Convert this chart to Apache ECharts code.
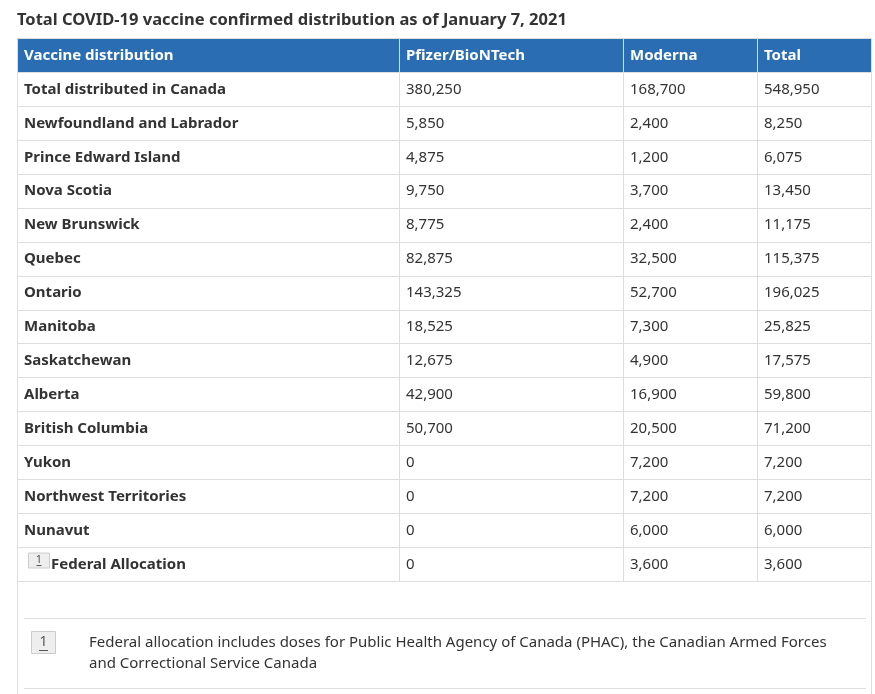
<!DOCTYPE html>
<html>
<head>
<meta charset="utf-8">
<script src="https://cdn.jsdelivr.net/npm/echarts@6/dist/echarts.min.js"></script>
<style>
html,body{margin:0;padding:0;background:#fff;}
#chart{width:875px;height:694px;}
</style>
</head>
<body>
<div id="chart"></div>
<script>
const titleText = 'Total COVID-19 vaccine confirmed distribution as of January 7, 2021';
const columns = ['Vaccine distribution', 'Pfizer/BioNTech', 'Moderna', 'Total'];
const regions = ['Total distributed in Canada', 'Newfoundland and Labrador', 'Prince Edward Island', 'Nova Scotia', 'New Brunswick', 'Quebec', 'Ontario', 'Manitoba', 'Saskatchewan', 'Alberta', 'British Columbia', 'Yukon', 'Northwest Territories', 'Nunavut', 'Federal Allocation'];
const pfizer = [380250, 5850, 4875, 9750, 8775, 82875, 143325, 18525, 12675, 42900, 50700, 0, 0, 0, 0];
const moderna = [168700, 2400, 1200, 3700, 2400, 32500, 52700, 7300, 4900, 16900, 20500, 7200, 7200, 6000, 3600];
const total = [548950, 8250, 6075, 13450, 11175, 115375, 196025, 25825, 17575, 59800, 71200, 7200, 7200, 6000, 3600];
const footnoteRows = ['Federal Allocation'];
const footnoteMark = '1';
const footnoteLines = ['Federal allocation includes doses for Public Health Agency of Canada (PHAC), the Canadian Armed Forces', 'and Correctional Service Canada'];

// layout (axis units = px width of table)
const colEdges = [0, 382, 606, 740, 854];
const FONT = '"Noto Sans", "Open Sans", sans-serif';
const TEXT = '#333333';
const BORDER = '#dddddd';
const HEAD = '#2a6db2';

const rowCats = ['__header__'].concat(regions);
const fmt = v => v.toLocaleString('en-US');

const cells = [];
for (let c = 0; c < columns.length; c++) cells.push([c, 0, columns[c]]);
regions.forEach((r, i) => {
  cells.push([0, i + 1, r]);
  cells.push([1, i + 1, fmt(pfizer[i])]);
  cells.push([2, i + 1, fmt(moderna[i])]);
  cells.push([3, i + 1, fmt(total[i])]);
});

function renderItem(params, api) {
  const col = api.value(0), row = api.value(1);
  const label = cells[params.dataIndex][2];
  const p1 = api.coord([colEdges[col], row]);
  const p2 = api.coord([colEdges[col + 1], row]);
  const h = api.size([0, 1])[1];
  const x = Math.round(p1[0]) + 0.5;
  const y = Math.round(p1[1] - h / 2) + 0.5;
  const w = Math.round(p2[0]) - Math.round(p1[0]);
  const hh = Math.round(p1[1] + h / 2) - Math.round(p1[1] - h / 2);
  const isHead = row === 0;
  const children = [{
    type: 'rect',
    shape: { x: x, y: y, width: w, height: hh },
    style: { fill: isHead ? HEAD : '#ffffff', stroke: BORDER, lineWidth: 1 }
  }];
  let tx = x + 6.5;
  if (!isHead && col === 0 && footnoteRows.indexOf(label) >= 0) {
    children.push({
      type: 'rect',
      shape: { x: x + 11, y: p1[1] - 11, width: 21, height: 15 },
      style: { fill: '#eeeeee', stroke: '#cccccc', lineWidth: 1 }
    });
    children.push({
      type: 'text',
      style: { text: footnoteMark, x: x + 21.5, y: p1[1] - 4, align: 'center', verticalAlign: 'middle',
        font: '11px ' + FONT, fill: '#555555' }
    });
    children.push({
      type: 'line',
      shape: { x1: x + 19, y1: p1[1] + 1.5, x2: x + 24, y2: p1[1] + 1.5 },
      style: { stroke: '#555555', lineWidth: 1 }
    });
    tx = x + 33.5;
  }
  children.push({
    type: 'text',
    style: {
      text: label, x: tx, y: p1[1] + 0.5, align: 'left', verticalAlign: 'middle',
      font: ((isHead || col === 0) ? 'bold ' : '') + '15px ' + FONT,
      fill: isHead ? '#ffffff' : TEXT
    }
  });
  return { type: 'group', children: children };
}

const chart = echarts.init(document.getElementById('chart'), null, { renderer: 'canvas' });
chart.setOption({
  animation: false,
  backgroundColor: '#ffffff',
  title: {
    text: titleText, left: 12, top: 7,
    textStyle: { fontFamily: FONT, fontWeight: 'bold', fontSize: 16.5, color: '#333333' }
  },
  grid: { left: 17, top: 38, width: 854, height: 543, containLabel: false },
  xAxis: { type: 'value', min: 0, max: colEdges[colEdges.length - 1], show: false },
  yAxis: { type: 'category', data: rowCats, inverse: true, show: false },
  series: [{
    type: 'custom',
    renderItem: renderItem,
    data: cells.map(c => [c[0], c[1]]),
    encode: { x: 0, y: 1 },
    silent: true
  }],
  graphic: [
    { type: 'line', shape: { x1: 17.5, y1: 581, x2: 17.5, y2: 694 }, style: { stroke: BORDER, lineWidth: 1 } },
    { type: 'line', shape: { x1: 871.5, y1: 581, x2: 871.5, y2: 694 }, style: { stroke: BORDER, lineWidth: 1 } },
    { type: 'line', shape: { x1: 24, y1: 618.5, x2: 866, y2: 618.5 }, style: { stroke: BORDER, lineWidth: 1 } },
    { type: 'line', shape: { x1: 24, y1: 688.5, x2: 866, y2: 688.5 }, style: { stroke: BORDER, lineWidth: 1 } },
    { type: 'rect', shape: { x: 31.5, y: 631.5, width: 24, height: 22 }, style: { fill: '#eeeeee', stroke: '#cccccc', lineWidth: 1 } },
    { type: 'text', style: { text: footnoteMark, x: 43.5, y: 642, align: 'center', verticalAlign: 'middle', font: '14px ' + FONT, fill: '#555555' } },
    { type: 'line', shape: { x1: 39, y1: 650.5, x2: 48, y2: 650.5 }, style: { stroke: '#555555', lineWidth: 1 } },
    { type: 'text', style: { text: footnoteLines[0], x: 89, y: 643, align: 'left', verticalAlign: 'middle', font: '15px ' + FONT, fill: '#333333' } },
    { type: 'text', style: { text: footnoteLines[1], x: 89, y: 664, align: 'left', verticalAlign: 'middle', font: '15px ' + FONT, fill: '#333333' } }
  ]
});
</script>
</body>
</html>
